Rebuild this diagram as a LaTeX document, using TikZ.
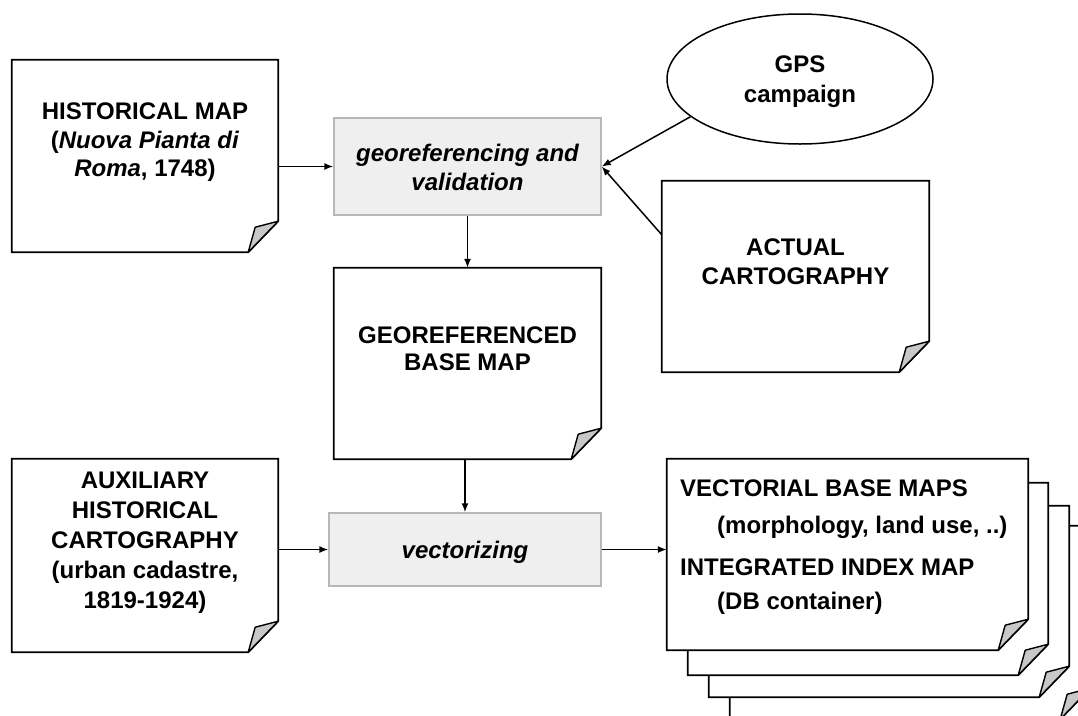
\documentclass[tikz,border=0pt]{standalone}
\usepackage{fontspec}
\setmainfont{Liberation Sans}
\usetikzlibrary{shapes.geometric,arrows.meta,calc}
\definecolor{procfill}{HTML}{EFEFEF}
\definecolor{procline}{HTML}{B8B8B8}
\definecolor{foldfill}{HTML}{C8C8C8}
\tikzset{
  docnode/.style={rectangle,inner sep=0pt,minimum width=#1},
  docline/.style={draw=black,line width=1.8pt,fill=white,line join=miter},
  foldline/.style={draw=black,line width=1.4pt,fill=foldfill,line join=round},
  procbox/.style={rectangle,draw=procline,fill=procfill,line width=1.4pt,inner sep=0pt},
  txt/.style={inner sep=0pt,font=\fontsize{24}{28.5}\selectfont\bfseries,align=center},
  ltxt/.style={inner sep=0pt,font=\fontsize{24}{28.5}\selectfont\bfseries,anchor=west},
  arr/.style={line width=1.5pt,-{Latex[length=9pt,width=7pt]}},
}
\newcommand\docoutline[1]{%
  \path[docline] (#1.north west) -- (#1.north east) -- ([yshift=31pt]#1.south east)
    -- ([xshift=-30pt]#1.south east) -- (#1.south west) -- cycle;
  \path[foldline] ([xshift=-30pt]#1.south east) -- ([xshift=-23pt,yshift=25pt]#1.south east)
    -- ([yshift=31pt]#1.south east) -- cycle;}
\begin{document}
\begin{tikzpicture}[x=1pt,y=-1pt]
\useasboundingbox (0,0) rectangle (1078,715);
\clip (0,0) rectangle (1078,715);
% document nodes (invisible anchors)
\node[docnode=266pt,minimum height=192pt] (hist) at (145,156) {};
\node[docnode=267pt,minimum height=191pt] (actual) at (795.5,276.5) {};
\node[docnode=267pt,minimum height=191pt] (georef) at (467.5,363.5) {};
\node[docnode=266pt,minimum height=193pt] (aux) at (145,555.5) {};
\node[docnode=360pt,minimum height=193pt] (out4) at (910,622.5) {};
\node[docnode=360pt,minimum height=191pt] (out3) at (889,601.5) {};
\node[docnode=360pt,minimum height=192pt] (out2) at (868,579) {};
\node[docnode=361pt,minimum height=191pt] (out1) at (847.5,554.5) {};
\docoutline{hist}
\docoutline{actual}
\docoutline{georef}
\docoutline{aux}
\docoutline{out4}
\docoutline{out3}
\docoutline{out2}
\docoutline{out1}
% process boxes
\node[procbox,minimum width=267pt,minimum height=97pt] (geo) at (467.5,166.5) {};
\node[procbox,minimum width=272pt,minimum height=73pt] (vec) at (465,549.5) {};
% ellipse
\node[ellipse,draw=black,line width=1.5pt,minimum width=266pt,minimum height=130pt,inner sep=0pt] (gps) at (800,79) {};
% texts
\node[txt,anchor=north] (histtext) at (145,103) {HISTORICAL MAP\\(\textit{Nuova Pianta di}\\\textit{Roma}, 1748)};
\node[txt,anchor=north,font=\fontsize{24}{30}\selectfont\bfseries] (gpstext) at (800,56) {GPS\\campaign};
\node[txt,anchor=north,font=\fontsize{24}{29}\selectfont\bfseries\itshape] (geotext) at (467.5,144) {georeferencing and\\validation};
\node[txt,anchor=north,font=\fontsize{24}{29}\selectfont\bfseries] (actualtext) at (795.5,238.5) {ACTUAL\\CARTOGRAPHY};
\node[txt,anchor=north,font=\fontsize{24}{27}\selectfont\bfseries] (georeftext) at (467.5,326.5) {GEOREFERENCED\\BASE MAP};
\node[txt,anchor=north,font=\fontsize{24}{30}\selectfont\bfseries] (auxtext) at (145,471.5) {AUXILIARY\\HISTORICAL\\CARTOGRAPHY\\(urban cadastre,\\1819-1924)};
\node[txt,anchor=base,font=\fontsize{24}{29}\selectfont\bfseries\itshape] (vectext) at (465,558) {vectorizing};
\node[ltxt] (o1) at (680,488) {VECTORIAL BASE MAPS};
\node[ltxt] (o2) at (717,527) {(morphology, land use, ..)};
\node[ltxt] (o3) at (680,567) {INTEGRATED INDEX MAP};
\node[ltxt] (o4) at (717,603) {(DB container)};
% connectors
\draw[arr] (geo.west -| hist.east) -- (geo.west);
\draw[arr] (gps.199) -- (geo.east);
\draw[arr] ([yshift=-54pt]actual.north west) -- (geo.east);
\draw[arr] (geo.south) -- (georef.north);
\draw[arr] (vec.north |- georef.south) -- (vec.north);
\draw[arr] (vec.west -| aux.east) -- (vec.west);
\draw[arr] (vec.east) -- (vec.east -| out1.west);
\end{tikzpicture}
\end{document}
